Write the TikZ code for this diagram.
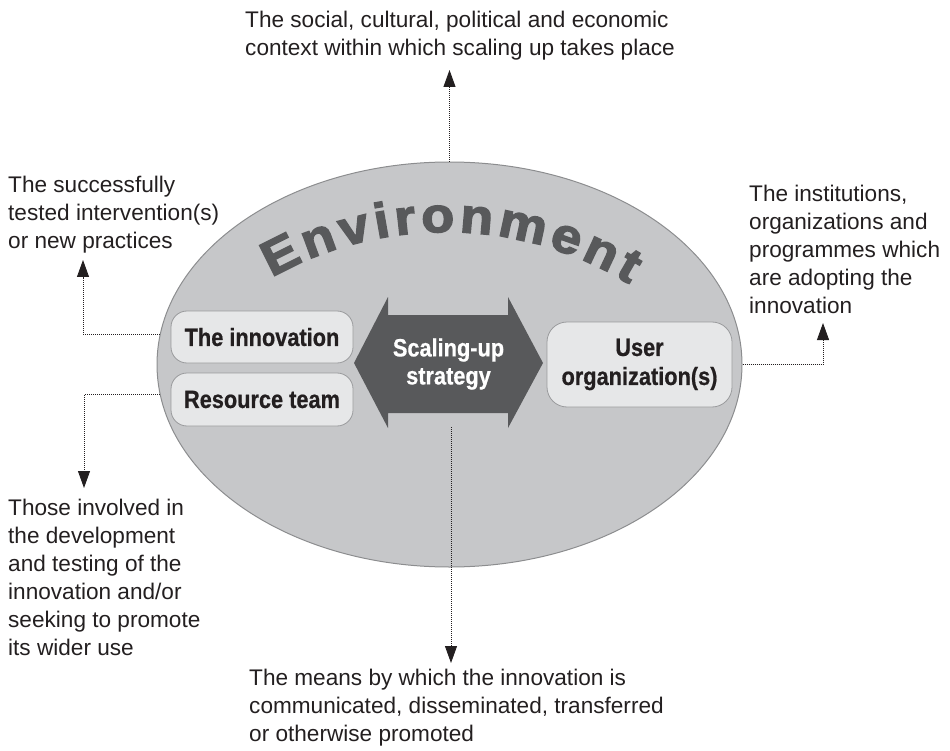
\documentclass[tikz,border=0pt]{standalone}
\usepackage{fontspec}
\setmainfont{Liberation Sans}
\newfontfamily\condbf[FakeStretch=0.87,FakeBold=0.6]{Liberation Sans}
\newfontfamily\envfont[FakeStretch=1.1,FakeBold=3]{Liberation Sans}
\usetikzlibrary{shapes.geometric,arrows.meta}
\definecolor{envfill}{HTML}{C6C7C9}
\definecolor{envline}{HTML}{8C8D8F}
\definecolor{boxfill}{HTML}{E6E7E8}
\definecolor{boxline}{HTML}{9A9B9D}
\definecolor{darkg}{HTML}{58595B}
\definecolor{txt}{HTML}{231F20}
\begin{document}
\begin{tikzpicture}[x=1pt,y=-1pt,
  note/.style={inner sep=0pt, align=left, anchor=north west, text=txt, font=\fontsize{22.6}{28}\selectfont},
  box/.style={draw=boxline, fill=boxfill, rounded corners=16pt, line width=0.8pt, inner sep=0pt, text=txt, font=\condbf\bfseries\fontsize{25}{29}\selectfont, align=center},
  link/.style={draw=txt, line width=0.9pt, dash pattern=on 0.9pt off 1.1pt, -{Triangle[length=17pt,width=12pt]}},
  envl/.style={inner sep=0pt, anchor=base, text=darkg, font=\envfont\bfseries\fontsize{49}{55}\selectfont}]
\useasboundingbox (0,0) rectangle (950,751);
% environment ellipse
\node[ellipse, draw=envline, fill=envfill, line width=1pt, minimum width=585pt, minimum height=405pt, inner sep=0pt] (env) at (449.5,364.5) {};
% curved word
\def\R{352}
\def\astart{119.5}
\def\fs{53.9}
\def\sp{4.6}
\xdef\envpos{0}
\foreach \ch/\w [count=\i] in {E/667,n/611,v/556,i/278,r/389,o/611,n/611,m/889,e/556,n/611,t/333}{
  \pgfmathsetmacro\mid{\envpos+\w/1000*\fs/2}
  \pgfmathsetmacro\nxt{\envpos+\w/1000*\fs+\sp}
  \xdef\envpos{\nxt}
  \pgfmathsetmacro\ang{\astart-\mid/\R*57.2958}
  \node[envl, rotate=\ang-90] (L\i) at ({445+\R*cos(\ang)},{584-\R*sin(\ang)}) {\ch};
}
% double arrow
\fill[darkg] (354,363) -- (388,297) -- (388,315) -- (508,315) -- (508,297) -- (543,363) -- (508,428) -- (508,413) -- (388,413) -- (388,428) -- cycle;
\node[inner sep=0pt, align=center, text=white, font=\condbf\bfseries\fontsize{25}{28}\selectfont] (strat) at (448.5,364) {Scaling-up\\strategy};
% boxes
\node[box, minimum width=182pt, minimum height=52pt] (innov) at (262,337) {The innovation};
\node[box, minimum width=182pt, minimum height=53pt] (res) at (262,399.5) {Resource team};
\node[box, minimum width=185pt, minimum height=85pt, rounded corners=20pt] (user) at (639.5,364.5) {User\\organization(s)};
% notes
\node[note] (tctx) at (245,10.5) {The social, cultural, political and economic\\context within which scaling up takes place};
\node[note] (tinn) at (8,175.5) {The successfully\\tested intervention(s)\\or new practices};
\node[note] (tuser) at (749,185.2) {The institutions,\\organizations and\\programmes which\\are adopting the\\innovation};
\node[note] (tres) at (8,498.5) {Those involved in\\the development\\and testing of the\\innovation and/or\\seeking to promote\\its wider use};
\node[note] (tstrat) at (249,669) {The means by which the innovation is\\communicated, disseminated, transferred\\or otherwise promoted};
% connector ends
\coordinate (ptop) at (449.5,70);
\coordinate (pinn) at (83,260);
\coordinate (pres) at (84,488);
\coordinate (puser) at (823,323);
\coordinate (sstart) at (451,427);
\coordinate (pstrat) at (451,663);
\draw[link] (env.north) -- (ptop);
\draw[link] (env.174.6) -| (pinn);
\draw[link] (env.186.8) -| (pres);
\draw[link] (env.east) -| (puser);
\draw[link] (sstart) -- (pstrat);
\end{tikzpicture}
\end{document}
